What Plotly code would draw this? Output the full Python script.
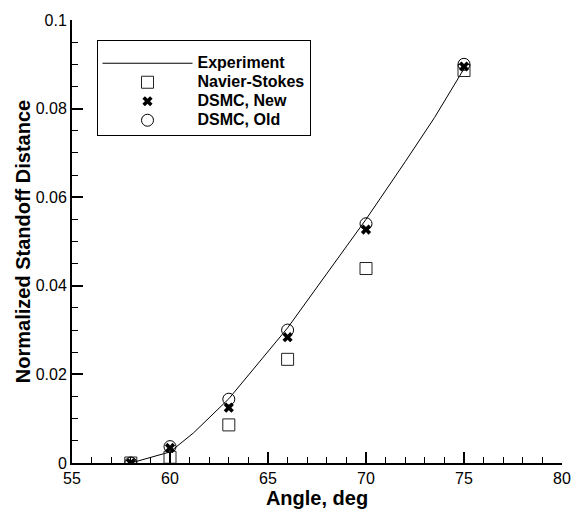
import plotly.graph_objects as go

# Experiment curve
exp_angle = [58, 60, 61.2, 63, 66, 70, 72, 73.5, 75]
exp_dist = [0.0, 0.0025, 0.0068, 0.0145, 0.0305, 0.055, 0.068, 0.078, 0.089]

# Simulation points
sim_angle = [58, 60, 63, 66, 70, 75]
ns_dist = [0.0, 0.0013, 0.0086, 0.0234, 0.0439, 0.0886]
dsmc_new = [0.0, 0.0034, 0.0125, 0.0284, 0.0527, 0.0895]
dsmc_old = [0.0, 0.0037, 0.0144, 0.0300, 0.0540, 0.0900]

x_ticks = [55, 60, 65, 70, 75, 80]
y_ticks = [0, 0.02, 0.04, 0.06, 0.08, 0.1]
y_ticklabels = ["0", "0.02", "0.04", "0.06", "0.08", "0.1"]

series_names = ["Experiment", "Navier-Stokes", "DSMC, New", "DSMC, Old"]

FONT = "Liberation Sans, Arial, Helvetica, sans-serif"


def leg(name):
    return '<span style="font-size:16px">' + name + '</span>'


fig = go.Figure()
fig.add_trace(go.Scatter(x=exp_angle, y=exp_dist, mode="lines", name=leg(series_names[0]),
                         line=dict(color="black", width=1)))
fig.add_trace(go.Scatter(x=sim_angle, y=ns_dist, mode="markers", name=leg(series_names[1]),
                         marker=dict(symbol="square-open", size=12, color="#222",
                                     line=dict(width=1, color="#222"))))
fig.add_trace(go.Scatter(x=sim_angle, y=dsmc_new, mode="markers", name=leg(series_names[2]),
                         marker=dict(symbol="x", size=9, color="black",
                                     line=dict(width=0))))
fig.add_trace(go.Scatter(x=sim_angle, y=dsmc_old, mode="markers", name=leg(series_names[3]),
                         marker=dict(symbol="circle-open", size=12, color="black",
                                     line=dict(width=1, color="black"))))

axis_common = dict(
    showline=True, linewidth=2, linecolor="black", mirror=False,
    showgrid=False, zeroline=False,
    ticks="inside", ticklen=11, tickwidth=2, tickcolor="black",
    tickfont=dict(family=FONT, size=16, color="black"),
)

fig.update_xaxes(range=[55, 80], tickvals=x_ticks, ticktext=[str(v) for v in x_ticks],
                 minor=dict(dtick=1, ticks="inside", ticklen=6, tickwidth=1, tickcolor="black"),
                 title=dict(text="<b>Angle, deg</b>", font=dict(family=FONT, size=20, color="black"),
                            standoff=2),
                 **axis_common)
fig.update_yaxes(range=[0, 0.1], tickvals=y_ticks, ticktext=y_ticklabels,
                 minor=dict(dtick=0.005, ticks="inside", ticklen=6, tickwidth=1, tickcolor="black"),
                 title=dict(text="<b>Normalized Standoff Distance</b>",
                            font=dict(family=FONT, size=20, color="black"), standoff=0),
                 **axis_common)

fig.update_layout(
    width=585, height=515,
    margin=dict(l=72, r=23, t=14, b=46),
    paper_bgcolor="white", plot_bgcolor="white",
    showlegend=True,
    legend=dict(x=0.05, y=0.955, xanchor="left", yanchor="top",
                bgcolor="white", bordercolor="black", borderwidth=1,
                font=dict(family=FONT, size=11.5, color="black", weight="bold"),
                title=dict(text="&nbsp;", font=dict(family=FONT, size=6)),
                itemwidth=90, tracegroupgap=0),
    font=dict(family=FONT, color="black"),
)

fig.write_html("out.html")
